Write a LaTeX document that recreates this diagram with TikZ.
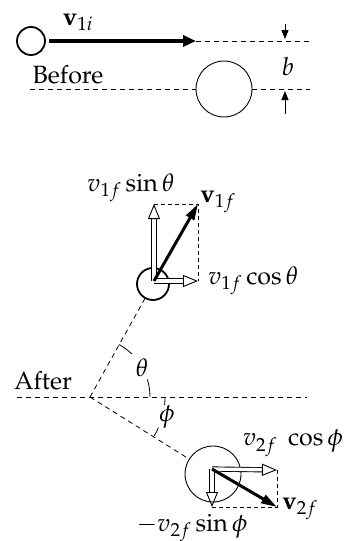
\documentclass[tikz,border=0pt]{standalone}
\usepackage[T1]{fontenc}
\usepackage{mathpazo}
\usetikzlibrary{arrows.meta}
\begin{document}
\begin{tikzpicture}[
  x=1pt, y=1pt,
  every node/.style={font=\fontsize{25}{30}\selectfont, inner sep=1pt},
  ball/.style={draw, circle, line width=1.8pt, minimum size=30pt, inner sep=0pt},
  bigball/.style={draw, circle, line width=0.9pt, minimum size=56pt, inner sep=0pt},
  guide/.style={dash pattern=on 5pt off 4pt, line width=0.8pt},
  vel/.style={-{Triangle[length=16pt, width=9pt]}, line width=3pt},
  comp/.style={double, double distance=3.4pt, line width=0.9pt, -{Triangle[open, length=15pt, width=12pt]}},
  box/.style={dash pattern=on 4pt off 3pt, line width=0.7pt},
  gap/.style={-{Triangle[length=9pt, width=7pt]}, line width=0.8pt},
  angarc/.style={line width=0.8pt}
]
  \useasboundingbox (0,0) rectangle (346,-541);

  \node[ball, minimum size=28pt] (p1i) at (31,-41) {};
  \node[bigball] (tgi) at (224,-89) {};
  \coordinate (tip1i) at (196,-41);
  \coordinate (end1) at (310,-41);
  \coordinate (beg2) at (30,-89);
  \coordinate (end2) at (310,-89);
  \coordinate (bt0) at (285,-24);
  \coordinate (bt1) at (285,-39);
  \coordinate (bb0) at (285,-114);
  \coordinate (bb1) at (285,-91);
  \draw[vel, line width=3.6pt, -{Triangle[length=13pt, width=11pt]}, shorten <=3pt] (p1i) -- (tip1i);
  \draw[guide] (tip1i) -- (end1);
  \draw[guide] (beg2) -- (tgi);
  \draw[guide] (tgi) -- (end2);
  \draw[gap] (bt0) -- (bt1);
  \draw[gap] (bb0) -- (bb1);
  \node (lv1i) at (78,-22) {$\mathbf{v}_{1i}$};
  \node (lbefore) at (68,-75) {Before};
  \node (lb) at (288,-67) {$b$};

  \coordinate (o) at (90,-397);
  \coordinate (hl) at (17,-397);
  \coordinate (hr) at (307,-397);
  \node[ball, minimum size=32pt] (p1f) at (153,-284) {};
  \node[bigball] (tgf) at (213,-474) {};
  \coordinate (s1) at (154,-281);
  \coordinate (s2) at (212,-469);
  \draw[guide] (hl) -- (hr);
  \draw[guide] (o) -- (p1f);
  \draw[guide] (o) -- (tgf);
  \draw[angarc] (o) ++(61:60) arc[start angle=61, end angle=46, radius=60];
  \draw[angarc] (o) ++(17:60) arc[start angle=17, end angle=0, radius=60];
  \draw[angarc] (o) ++(0:75) arc[start angle=0, end angle=-6, radius=75];
  \draw[angarc] (o) ++(-24:75) arc[start angle=-24, end angle=-31, radius=75];

  \coordinate (v1) at (198,-204);
  \coordinate (v1y) at (154,-204);
  \coordinate (v1x) at (198,-281);
  \draw[box] (v1y) -- (v1) -- (v1x);
  \draw[comp] (s1) -- (v1y);
  \draw[comp] (s1) -- (v1x);
  \draw[vel] (s1) -- (v1);

  \coordinate (v2) at (277,-507);
  \coordinate (v2x) at (277,-470);
  \coordinate (v2y) at (212,-507);
  \draw[box] (v2x) -- (v2) -- (v2y);
  \draw[comp] (s2) -- (v2x);
  \draw[comp] (s2) -- (v2y);
  \draw[vel] (s2) -- (v2);

  \node (lsin1) at (131,-188) {$v_{1f}\sin\theta$};
  \node (lv1f) at (218,-202) {$\mathbf{v}_{1f}$};
  \node[anchor=west] (lcos1) at (207,-281) {$v_{1f}\cos\theta$};
  \node (lafter) at (43,-381) {After};
  \node (ltheta) at (142,-368) {$\theta$};
  \node (lphi) at (167,-417) {$\phi$};
  \node (lcos2) at (293,-443) {$v_{2f}\;\cos\phi$};
  \node (lv2f) at (300,-509) {$\mathbf{v}_{2f}$};
  \node (lsin2) at (192,-528) {$-v_{2f}\sin\phi$};
\end{tikzpicture}
\end{document}
